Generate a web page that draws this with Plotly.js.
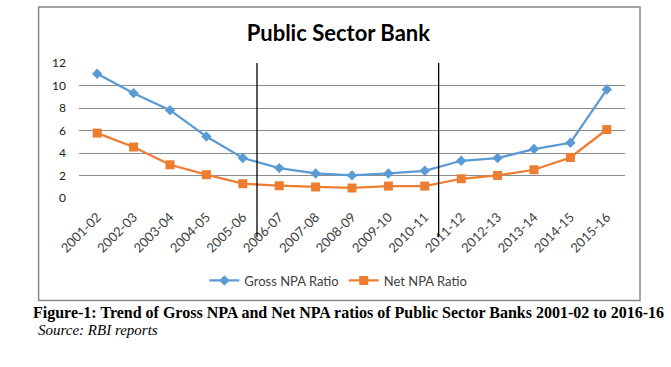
<!DOCTYPE html>
<html><head><meta charset="utf-8">
<script src="https://cdn.plot.ly/plotly-3.0.1.min.js"></script>
<style>html,body{margin:0;padding:0;background:#fff;}#chart{width:671px;height:367px;}</style>
</head><body><div id="chart"></div>
<script>
const years = ["2001-02","2002-03","2003-04","2004-05","2005-06","2006-07","2007-08","2008-09","2009-10","2010-11","2011-12","2012-13","2013-14","2014-15","2015-16"];
const grossNPA = [11.05,9.32,7.81,5.47,3.55,2.66,2.18,2.01,2.18,2.42,3.31,3.55,4.35,4.91,9.64];
const netNPA = [5.77,4.53,2.95,2.07,1.27,1.09,0.98,0.89,1.06,1.06,1.71,2.01,2.51,3.6,6.09];
const yTicks = [0,2,4,6,8,10,12];

const font = "Lato, 'Open Sans', sans-serif";
const traces = [
  {x: years, y: grossNPA, name: "Gross NPA Ratio", type: "scatter", mode: "lines+markers",
   line: {color: "#5B9BD5", width: 2.25}, marker: {symbol: "diamond", size: 8, color: "#5B9BD5"}},
  {x: years, y: netNPA, name: "Net NPA Ratio", type: "scatter", mode: "lines+markers",
   line: {color: "#ED7D31", width: 2.25}, marker: {symbol: "square", size: 9, color: "#ED7D31"}}
];
const layout = {
  width: 671, height: 367,
  margin: {l: 78.5, r: 46, t: 63, b: 168.7},
  paper_bgcolor: "#fff", plot_bgcolor: "#fff",
  showlegend: true,
  legend: {orientation: "h", x: 0.475, xanchor: "center", y: -0.611, yanchor: "middle",
           font: {family: font, size: 13, color: "#404040"}, itemwidth: 30, tracegroupgap: 0},
  title: {text: "<b>Public Sector Bank</b>", x: 0.475, xref: "paper", xanchor: "center", y: 0.91, yref: "container", yanchor: "middle",
          font: {family: font, size: 22, color: "#000"}},
  xaxis: {type: "category", range: [-0.5, 14.5], tickangle: -45, showgrid: false, zeroline: false,
          showline: false, ticks: "", tickfont: {family: font, size: 13, color: "#404040"}, ticklabelstandoff: 8},
  yaxis: {range: [0, 12], tickvals: yTicks, showgrid: true, gridcolor: "#8c8c8c", gridwidth: 1, zeroline: false,
          showline: false, ticks: "", ticklabelstandoff: 12, tickfont: {family: font, size: 12, color: "#202020"}},
  shapes: [
    {type: "rect", xref: "paper", yref: "paper", x0: -0.074, x1: 1.0275, y0: -0.759, y1: 1.414,
     line: {color: "#888", width: 1.5}, fillcolor: "rgba(0,0,0,0)", layer: "below"},
    {type: "line", xref: "x", yref: "paper", x0: 4.39, x1: 4.39, y0: 1, y1: -0.29, line: {color: "#000", width: 1.3}},
    {type: "line", xref: "x", yref: "paper", x0: 9.38, x1: 9.38, y0: 1, y1: -0.29, line: {color: "#000", width: 1.3}}
  ],
  annotations: [
    {xref: "paper", yref: "paper", x: -0.088, xanchor: "left", y: -0.85, yanchor: "middle", showarrow: false,
     text: "<b>Figure-1: Trend of Gross NPA and Net NPA ratios of Public Sector Banks 2001-02 to 2016-16</b>",
     font: {family: "'Liberation Serif', 'Times New Roman', serif", size: 16, color: "#000"}},
    {xref: "paper", yref: "paper", x: -0.079, xanchor: "left", y: -0.98, yanchor: "middle", showarrow: false,
     text: "<i>Source: RBI reports</i>",
     font: {family: "'Liberation Serif', 'Times New Roman', serif", size: 15, color: "#000"}}
  ]
};
Plotly.newPlot("chart", traces, layout, {displayModeBar: false, staticPlot: true});
</script></body></html>
